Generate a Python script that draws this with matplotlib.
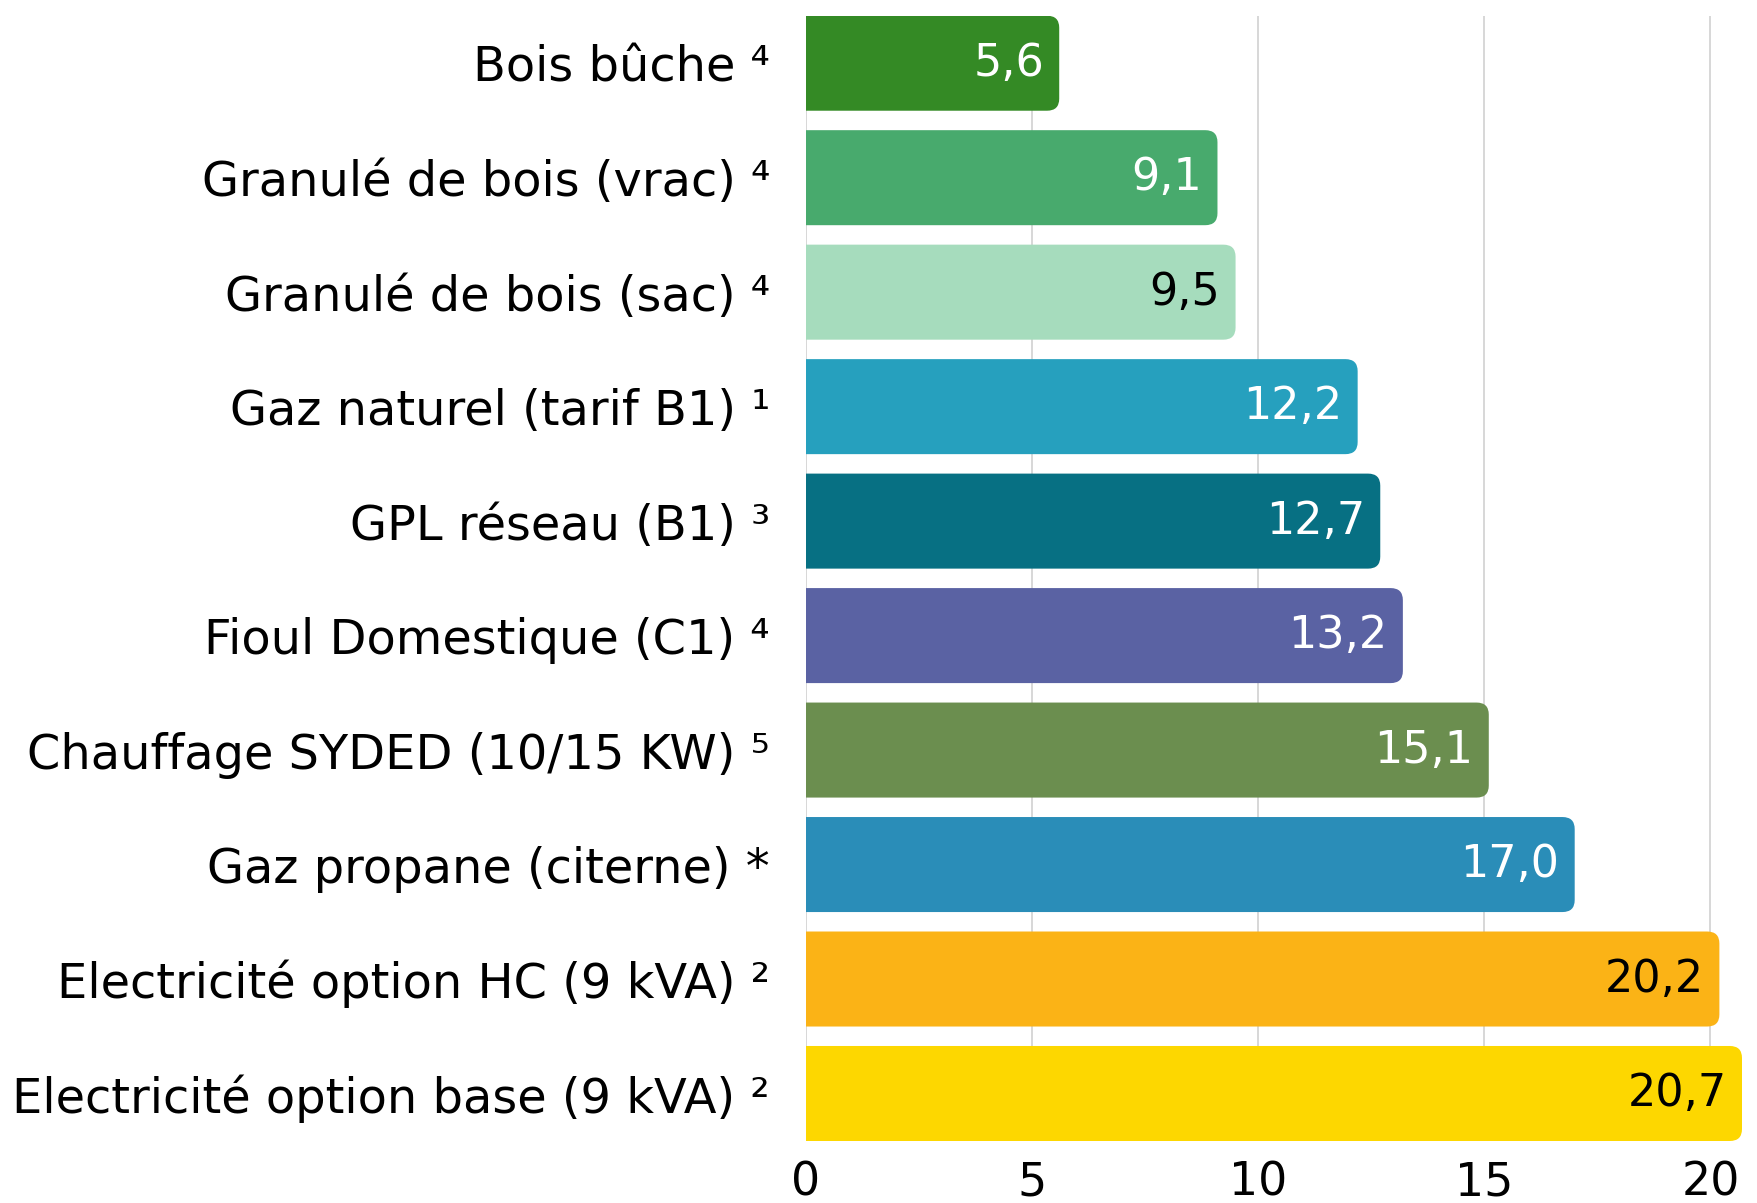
import matplotlib
matplotlib.use("Agg")
import matplotlib.pyplot as plt
from matplotlib.patches import FancyBboxPatch

categories = [
    "Bois bûche ⁴",
    "Granulé de bois (vrac) ⁴",
    "Granulé de bois (sac) ⁴",
    "Gaz naturel (tarif B1) ¹",
    "GPL réseau (B1) ³",
    "Fioul Domestique (C1) ⁴",
    "Chauffage SYDED (10/15 KW) ⁵",
    "Gaz propane (citerne) *",
    "Electricité option HC (9 kVA) ²",
    "Electricité option base (9 kVA) ²",
]
values = [5.6, 9.1, 9.5, 12.2, 12.7, 13.2, 15.1, 17.0, 20.2, 20.7]
value_labels = ["5,6", "9,1", "9,5", "12,2", "12,7", "13,2", "15,1", "17,0", "20,2", "20,7"]
colors = ["#348A25", "#48AA6D", "#A6DCBD", "#26A0BE", "#077083",
          "#5A62A3", "#6B8E4F", "#2A8DB8", "#FBB316", "#FDD700"]
text_colors = ["white", "white", "black", "white", "white",
               "white", "white", "white", "black", "black"]
xticks = [0, 5, 10, 15, 20]

plt.rcParams['font.family'] = ['DejaVu Sans']

W, H = 1757, 1203
fig = plt.figure(figsize=(W / 100, H / 100), dpi=100)
left, right = 806 / W, 1742 / W
top, bottom = 1 - 15.7 / H, 1 - 1141 / H
ax = fig.add_axes([left, bottom, right - left, top - bottom])

bh = 0.83
ypos = list(range(len(categories)))
bars = ax.barh(ypos, values, height=bh, color="none", zorder=2)

ax.set_xlim(0, 20.7)
ax.set_ylim(len(categories) - 1 + bh / 2, -bh / 2)

# rounded-right bars
rx = 0.27
ry = 0.105
for b, c in zip(bars, colors):
    x0 = b.get_x()
    w = b.get_width()
    y0 = b.get_y()
    h = b.get_height()
    p = FancyBboxPatch((x0 - 1.0, y0), w + 1.0, h,
                       boxstyle=f"round,pad=0,rounding_size={rx}",
                       mutation_aspect=ry / rx,
                       facecolor=c, edgecolor="none", zorder=2, clip_on=True)
    ax.add_patch(p)

for y, v, lab, tc in zip(ypos, values, value_labels, text_colors):
    ax.annotate(lab, xy=(v, y), xytext=(-11, 0), textcoords="offset points",
                ha="right", va="center", fontsize=32, color=tc, zorder=3)

ax.set_yticks(ypos)
ax.set_yticklabels(categories, fontsize=34.5)
ax.set_xticks(xticks)
ax.set_xticklabels([str(t) for t in xticks], fontsize=33)
ax.tick_params(axis="both", length=0)
ax.tick_params(axis="y", pad=26)
ax.tick_params(axis="x", pad=14)
for s in ax.spines.values():
    s.set_visible(False)
ax.grid(axis="x", color="#d4d4d4", linewidth=1.3, zorder=0)
ax.set_axisbelow(True)

fig.savefig("out.png", dpi=100, facecolor="white")
